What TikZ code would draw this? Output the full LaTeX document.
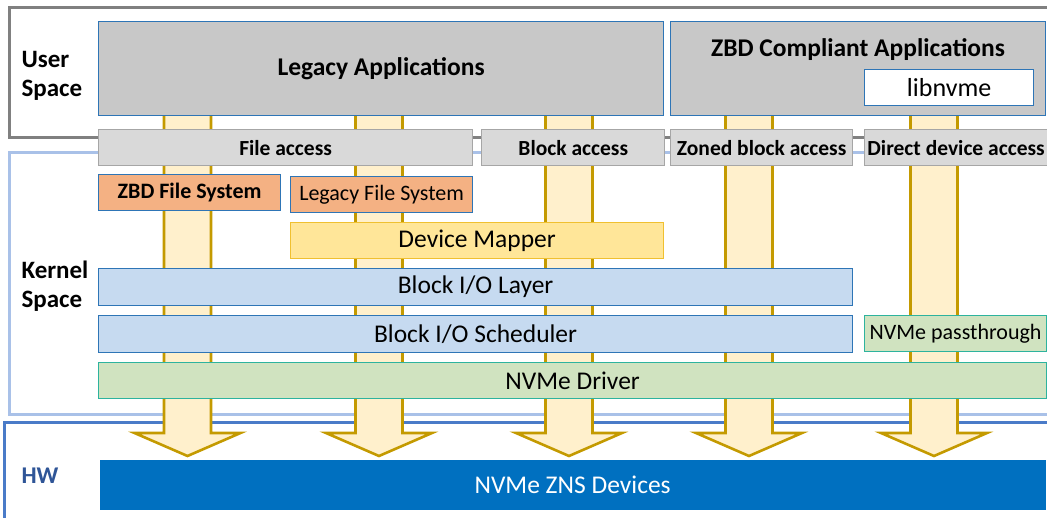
\documentclass[tikz,border=0pt]{standalone}
\usepackage{fontspec}
\setmainfont{Carlito}
\usetikzlibrary{positioning}

\definecolor{edgeblue}{HTML}{2E75B6}
\definecolor{appgray}{HTML}{C8C8C8}
\definecolor{accfill}{HTML}{D9D9D9}
\definecolor{accedge}{HTML}{A6A6A6}
\definecolor{fsorange}{HTML}{F4B183}
\definecolor{dmfill}{HTML}{FFE699}
\definecolor{dmedge}{HTML}{F0C030}
\definecolor{bioblue}{HTML}{C6DAF0}
\definecolor{drvgreen}{HTML}{D0E3C0}
\definecolor{drvedge}{HTML}{2DB39E}
\definecolor{znsblue}{HTML}{0070C0}
\definecolor{pipefill}{HTML}{FFF0CC}
\definecolor{pipeedge}{HTML}{C49A00}
\definecolor{userframe}{HTML}{808080}
\definecolor{kernframe}{HTML}{A9C1E8}
\definecolor{hwframe}{HTML}{4A7BC8}
\definecolor{hwtext}{HTML}{2F5597}

\begin{document}
\begin{tikzpicture}[
    x=1pt, y=-1pt,
    frame/.style={line width=3pt},
    box/.style={draw=edgeblue, line width=1.2pt, anchor=north west, inner sep=0pt, align=center},
    appbox/.style={box, fill=appgray, minimum height=94pt, font=\fontsize{25.5}{28}\selectfont\bfseries},
    accessbox/.style={box, draw=accedge, fill=accfill, minimum height=36pt, font=\fontsize{21.5}{24}\selectfont\bfseries},
    fsbox/.style={box, fill=fsorange, minimum width=182pt, minimum height=36pt, font=\fontsize{22}{25}\selectfont},
    biobox/.style={box, fill=bioblue, minimum width=754pt, minimum height=37pt, font=\fontsize{25.5}{28}\selectfont},
    drvbox/.style={box, draw=drvedge, fill=drvgreen, minimum height=36pt},
    spacelabel/.style={anchor=west, align=left, font=\fontsize{25}{29}\selectfont\bfseries},
    pipe/.style={draw=pipeedge, fill=pipefill, line width=2.6pt, line join=miter}
]
\useasboundingbox (0,0) rectangle (1047,518);

% frames
\draw[frame, userframe] (1060,8) -- (9,8) -- (9,138) -- (1060,138);
\draw[frame, kernframe] (1060,153) -- (9,153) -- (9,415) -- (1060,415);
\draw[frame, hwframe] (1060,423) -- (4,423) -- (4,530);

% pipes down to the devices
\foreach \cx in {187.5, 379, 569, 749, 934}{
  \draw[pipe] (\cx-23.5,110) -- (\cx-23.5,433) -- (\cx-53,433) -- (\cx,456)
    -- (\cx+53,433) -- (\cx+23.5,433) -- (\cx+23.5,110) -- cycle;
}

% user space
\node[spacelabel] (userlbl) at (18,76) {User\\Space};
\node[appbox, minimum width=565pt] (legacyapp) at (98,21) {Legacy Applications};
\node[appbox, minimum width=375pt] (zbdapp) at (670,21) {};
\node[font=\fontsize{25.5}{28}\selectfont\bfseries] (zbdlbl) at (858,50) {ZBD Compliant Applications};
\node[box, fill=white, minimum width=169pt, minimum height=36pt, font=\fontsize{26}{29}\selectfont] (libnvme) at (864,69) {libnvme};

% access paths
\node[accessbox, minimum width=374pt] (fileacc) at (98,129) {File access};
\node[accessbox, minimum width=183pt, right=8pt of fileacc.north east, anchor=north west] (blockacc) {Block access};
\node[accessbox, minimum width=182pt] (zonedacc) at (670,129) {Zoned block access};
\node[accessbox, minimum width=183pt] (directacc) at (864,129) {Direct device access};

% kernel space
\node[spacelabel] (kernlbl) at (18,286) {Kernel\\Space};
\node[fsbox, font=\fontsize{22}{25}\selectfont\bfseries] (zbdfs) at (98,174) {ZBD File System};
\node[fsbox] (legacyfs) at (290,176) {Legacy File System};
\node[box, draw=dmedge, fill=dmfill, minimum width=373pt, minimum height=36pt, font=\fontsize{25.5}{28}\selectfont] (devmap) at (290,222) {Device Mapper};
\node[biobox] (biolayer) at (98,268) {Block I/O Layer};
\node[biobox] (biosched) at (98,315) {Block I/O Scheduler};
\node[drvbox, minimum width=182pt, font=\fontsize{22}{25}\selectfont] (passthru) at (864,315) {NVMe passthrough};
\node[drvbox, minimum width=948pt, font=\fontsize{25.5}{28}\selectfont] (nvmedrv) at (98,362) {NVMe Driver};

% hardware
\node[anchor=west, text=hwtext, font=\fontsize{24}{27}\selectfont\bfseries] (hwlbl) at (18,476) {HW};
\node[box, draw=none, fill=znsblue, text=white, minimum width=946pt, minimum height=50pt, font=\fontsize{25.5}{28}\selectfont] (zns) at (99,459) {NVMe ZNS Devices};

\end{tikzpicture}
\end{document}
